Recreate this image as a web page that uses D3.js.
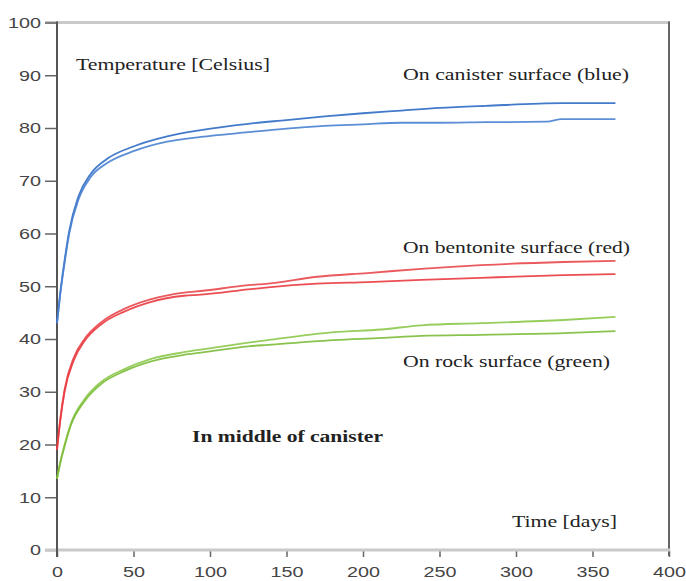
<!DOCTYPE html>
<html>
<head>
<meta charset="utf-8">
<script src="https://cdn.jsdelivr.net/npm/d3@7"></script>
<style>
  body { margin: 0; background: #fff; }
  svg { display: block; }
</style>
</head>
<body>
<div id="chart"></div>
<script>
// days and temperatures (two curves per surface)
const blueUpDays = [0, 2, 5, 8, 14, 22, 33, 50, 72, 94, 125, 150, 175, 200, 225, 250, 280, 330, 365]
const blueUp = [43, 48.5, 55, 60.5, 67, 71.3, 74.2, 76.5, 78.4, 79.6, 80.8, 81.5, 82.2, 82.8, 83.3, 83.8, 84.2, 84.7, 84.7]
const blueLoDays = [0, 2, 5, 8, 14, 22, 33, 50, 72, 94, 125, 150, 175, 200, 225, 250, 280, 320, 330, 365]
const blueLo = [43, 48.2, 54.5, 60, 66.4, 70.7, 73.4, 75.6, 77.4, 78.3, 79.2, 79.9, 80.4, 80.7, 81, 81, 81.1, 81.2, 81.7, 81.7]

const redDays = [0, 2, 5, 11, 18, 29, 44, 61, 83, 94, 125, 138, 170, 203, 238, 277, 331, 365]
const redUp = [19, 24.5, 30.5, 36.5, 40, 43.2, 45.7, 47.5, 48.8, 49.1, 50.2, 50.5, 51.8, 52.5, 53.3, 54, 54.6, 54.8]
const redLo = [19, 24.2, 30.1, 36, 39.6, 42.8, 45.2, 47, 48.2, 48.4, 49.4, 49.8, 50.5, 50.8, 51.2, 51.6, 52.1, 52.3]

const greenDays = [0, 2, 5, 9, 18, 29, 44, 61, 83, 94, 125, 138, 181, 212, 238, 277, 331, 365]
const greenUp = [13.5, 16.5, 20, 23.9, 28.6, 31.9, 34.3, 36.2, 37.5, 38, 39.3, 39.8, 41.3, 41.8, 42.6, 43, 43.6, 44.2]
const greenLo = [13.5, 16.3, 19.7, 23.6, 28.2, 31.5, 33.9, 35.7, 37, 37.4, 38.6, 38.9, 39.8, 40.2, 40.6, 40.8, 41.1, 41.5]

const xTicks = [0, 50, 100, 150, 200, 250, 300, 350, 400]
const yTicks = [0, 10, 20, 30, 40, 50, 60, 70, 80, 90, 100]

const w = 686
const h = 581

const x = d3.scaleLinear().domain([0, 400]).range([57, 669])
const y = d3.scaleLinear().domain([0, 100]).range([550, 22.5])

const sansFont = "'Liberation Sans', Arial, sans-serif"
const serifFont = "'Liberation Serif', 'Times New Roman', serif"

const svg = d3.select('#chart')
    .append('svg')
    .attr('width', w)
    .attr('height', h)

// frame: light top + bottom, dark left + right
svg.append('line')
    .attr('x1', 45).attr('x2', x(400) + 1)
    .attr('y1', y(100)).attr('y2', y(100))
    .attr('stroke', '#c9c9c9').attr('stroke-width', 3)
svg.append('line')
    .attr('x1', x(400)).attr('x2', x(400))
    .attr('y1', y(100) - 1).attr('y2', y(0) + 6)
    .attr('stroke', '#666').attr('stroke-width', 2)

// y axis
const yAxis = d3.axisLeft(y).tickValues(yTicks).tickSize(12).tickPadding(4)
const gy = svg.append('g')
    .attr('id', 'y-axis')
    .attr('transform', 'translate(' + x(0) + ',0)')
    .call(yAxis)
gy.select('.domain').remove()
gy.selectAll('.tick line').attr('stroke', '#666').attr('stroke-width', 1.5)
gy.selectAll('.tick text')
    .style('font-family', sansFont)
    .style('font-size', '15px')
    .attr('fill', '#444')
    .attr('textLength', d => String(d).length * 11)
    .attr('lengthAdjust', 'spacingAndGlyphs')

// x axis
const xAxis = d3.axisBottom(x).tickValues(xTicks).tickSize(7).tickPadding(9)
const gx = svg.append('g')
    .attr('id', 'x-axis')
    .attr('transform', 'translate(0,' + y(0) + ')')
    .call(xAxis)
gx.select('.domain').remove()
gx.selectAll('.tick line').attr('stroke', '#666').attr('stroke-width', 1.5)
gx.selectAll('.tick text')
    .style('font-family', sansFont)
    .style('font-size', '15px')
    .attr('fill', '#444')
    .attr('textLength', d => String(d).length * 11)
    .attr('lengthAdjust', 'spacingAndGlyphs')

svg.append('line')
    .attr('x1', 45).attr('x2', x(400) + 1)
    .attr('y1', y(0)).attr('y2', y(0))
    .attr('stroke', '#c9c9c9').attr('stroke-width', 3)
svg.append('line')
    .attr('x1', x(0)).attr('x2', x(0))
    .attr('y1', y(100) - 1).attr('y2', y(0) + 7)
    .attr('stroke', '#555').attr('stroke-width', 2)

// curves
const line = d3.line()
    .x(d => x(d[0]))
    .y(d => y(d[1]))
    .curve(d3.curveMonotoneX)

const series = [
    { days: blueUpDays, vals: blueUp, color: '#2f6cc4' },
    { days: blueLoDays, vals: blueLo, color: '#4a82d0' },
    { days: redDays, vals: redUp, color: '#e8474b' },
    { days: redDays, vals: redLo, color: '#ea3a40' },
    { days: greenDays, vals: greenUp, color: '#8cc84a' },
    { days: greenDays, vals: greenLo, color: '#7cbd3a' }
]

svg.selectAll('path.temp')
    .data(series)
    .enter()
    .append('path')
    .attr('class', 'temp')
    .attr('d', s => line(s.days.map((d, i) => [d, s.vals[i]])))
    .attr('fill', 'none')
    .attr('stroke', s => s.color)
    .attr('stroke-width', 1.8)
    .attr('stroke-opacity', 0.9)

// annotations
const notes = [
    { text: 'Temperature [Celsius]', x: 76, y: 70, len: 194, bold: false },
    { text: 'On canister surface (blue)', x: 403, y: 80, len: 226, bold: false },
    { text: 'On bentonite surface (red)', x: 403, y: 253, len: 227, bold: false },
    { text: 'On rock surface (green)', x: 403, y: 367, len: 207, bold: false },
    { text: 'In middle of canister', x: 192, y: 442, len: 191, bold: true },
    { text: 'Time [days]', x: 512, y: 527, len: 105, bold: false }
]

svg.selectAll('text.note')
    .data(notes)
    .enter()
    .append('text')
    .attr('class', 'note')
    .attr('x', d => d.x)
    .attr('y', d => d.y)
    .style('font-family', serifFont)
    .style('font-size', '16px')
    .style('font-weight', d => d.bold ? 'bold' : 'normal')
    .attr('fill', '#222')
    .attr('textLength', d => d.len)
    .attr('lengthAdjust', 'spacingAndGlyphs')
    .text(d => d.text)
</script>
</body>
</html>
